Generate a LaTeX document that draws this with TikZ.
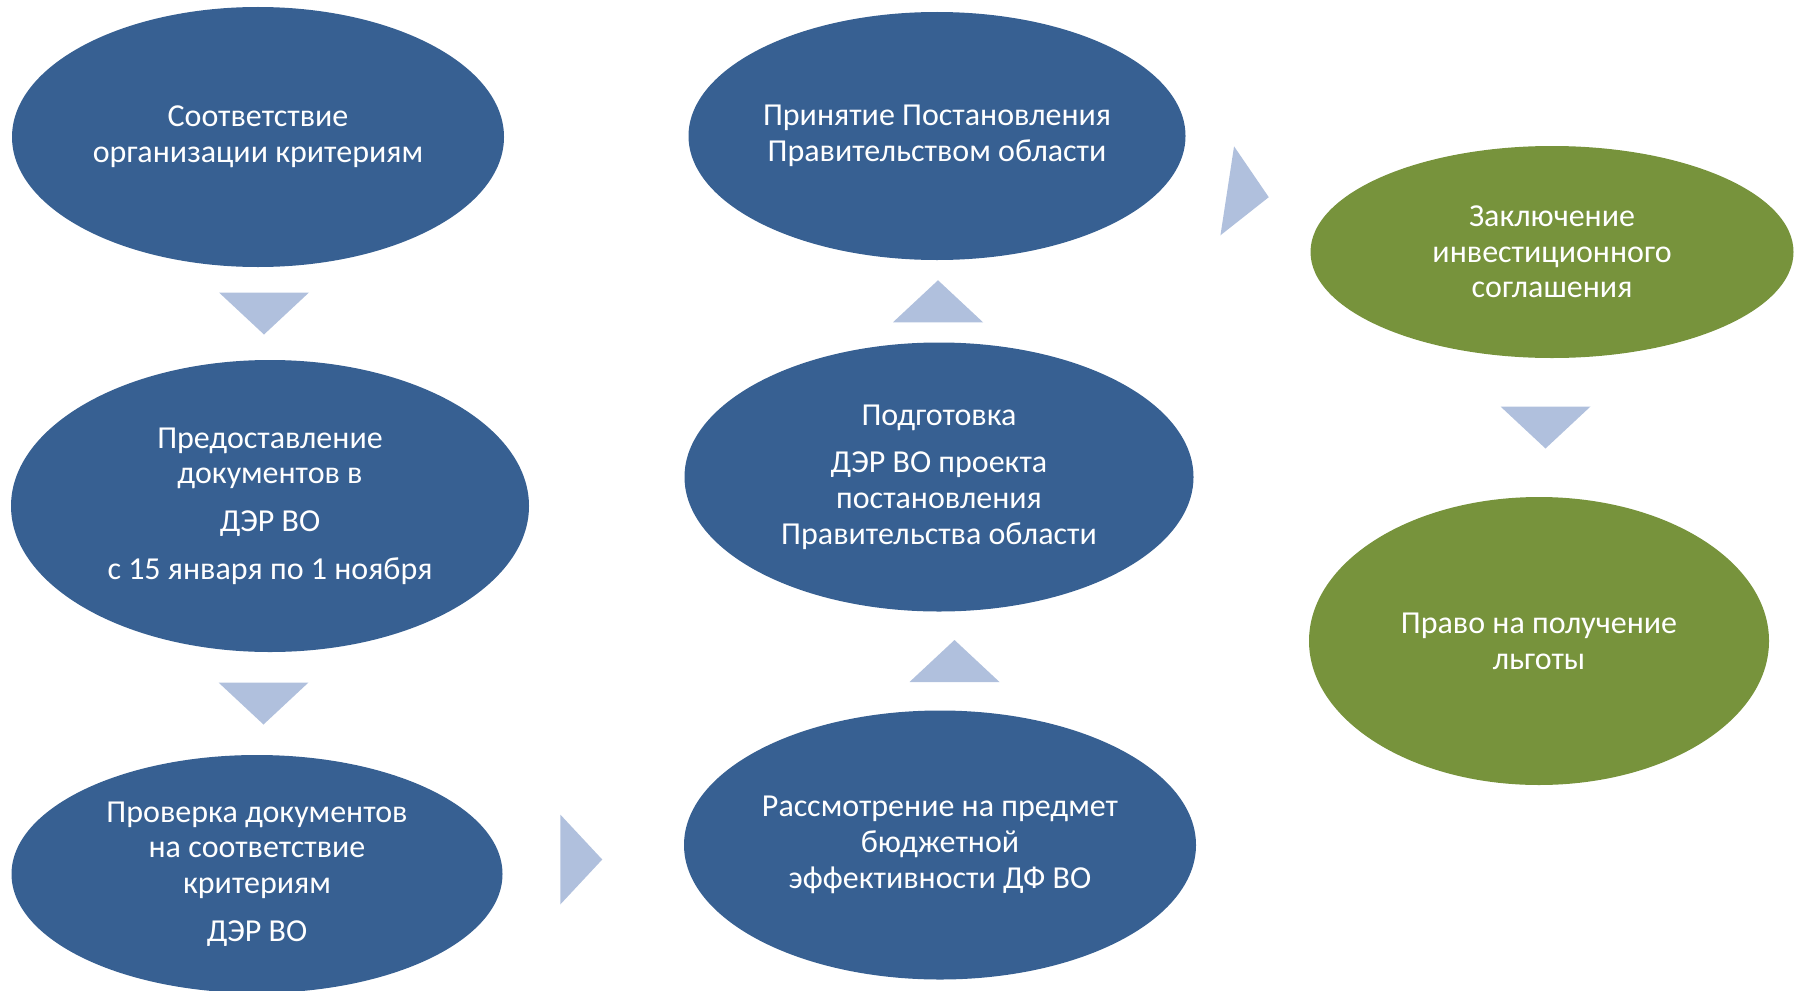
\documentclass[tikz,border=0pt]{standalone}
\usepackage{fontspec}
\setmainfont{Carlito}
\usetikzlibrary{shapes.geometric,calc}

\definecolor{stageblue}{RGB}{55,96,146}
\definecolor{stagegreen}{RGB}{119,147,60}
\definecolor{pointergray}{RGB}{176,192,221}

\tikzset{
    stage/.style={ellipse, fill=stageblue, text=white, align=center, inner sep=0pt,
        font=\fontsize{32}{35.7}\selectfont},
    final/.style={stage, fill=stagegreen},
    pointer/.style={fill=pointergray},
}

% triangle pointer: #1 = centre, #2 = direction
\newcommand{\steparrow}[2]{\fill[pointer, shift={#1}, rotate=#2] (-21,-45) -- (21,0) -- (-21,45) -- cycle;}

\begin{document}
\begin{tikzpicture}[x=1pt, y=-1pt]
    \useasboundingbox (0,0) rectangle (1803,990);

    % Left column
    \node[stage, minimum width=492, minimum height=260] (crit) at (258,137)
        {Соответствие\\организации критериям};
    \node[stage, minimum width=518, minimum height=292] (docs) at (270,506)
        {Предоставление\\документов в\\[12pt]ДЭР ВО\\[12pt]с 15 января по 1 ноября};
    \node[stage, minimum width=491, minimum height=238] (check) at (257,874)
        {Проверка документов\\на соответствие\\критериям\\[12pt]ДЭР ВО};

    % Middle column
    \node[stage, minimum width=512, minimum height=269] (budget) at (940,845)
        {Рассмотрение на предмет\\бюджетной\\эффективности ДФ ВО};
    \node[stage, minimum width=509, minimum height=269] (draft) at (939,477)
        {Подготовка\\[12pt]ДЭР ВО проекта\\постановления\\Правительства области};
    \node[stage, minimum width=497, minimum height=248] (decree) at (937,136)
        {Принятие Постановления\\Правительством области};

    % Right column
    \node[final, minimum width=483, minimum height=212] (deal) at (1552,252)
        {Заключение\\инвестиционного\\соглашения};
    \node[final, minimum width=460, minimum height=288] (benefit) at (1539,641)
        {Право на получение\\льготы};

    % Pointers between stages
    \steparrow{($(crit.south)!0.5!(docs.north)$)}{-90}
    \steparrow{($(docs.south)!0.5!(check.north)$)}{-90}
    \steparrow{($(check.east)!0.5!(budget.west)+(-12,0)$)}{0}
    \steparrow{($(budget.north)!0.5!(draft.south)+(15,0)$)}{90}
    \steparrow{($(draft.north)!0.5!(decree.south)$)}{90}
    \steparrow{($(decree.east)!0.5!(deal.west)$)}{-8.7}
    \steparrow{($(deal.south)!0.5!(benefit.north)$)}{-90}
\end{tikzpicture}
\end{document}
